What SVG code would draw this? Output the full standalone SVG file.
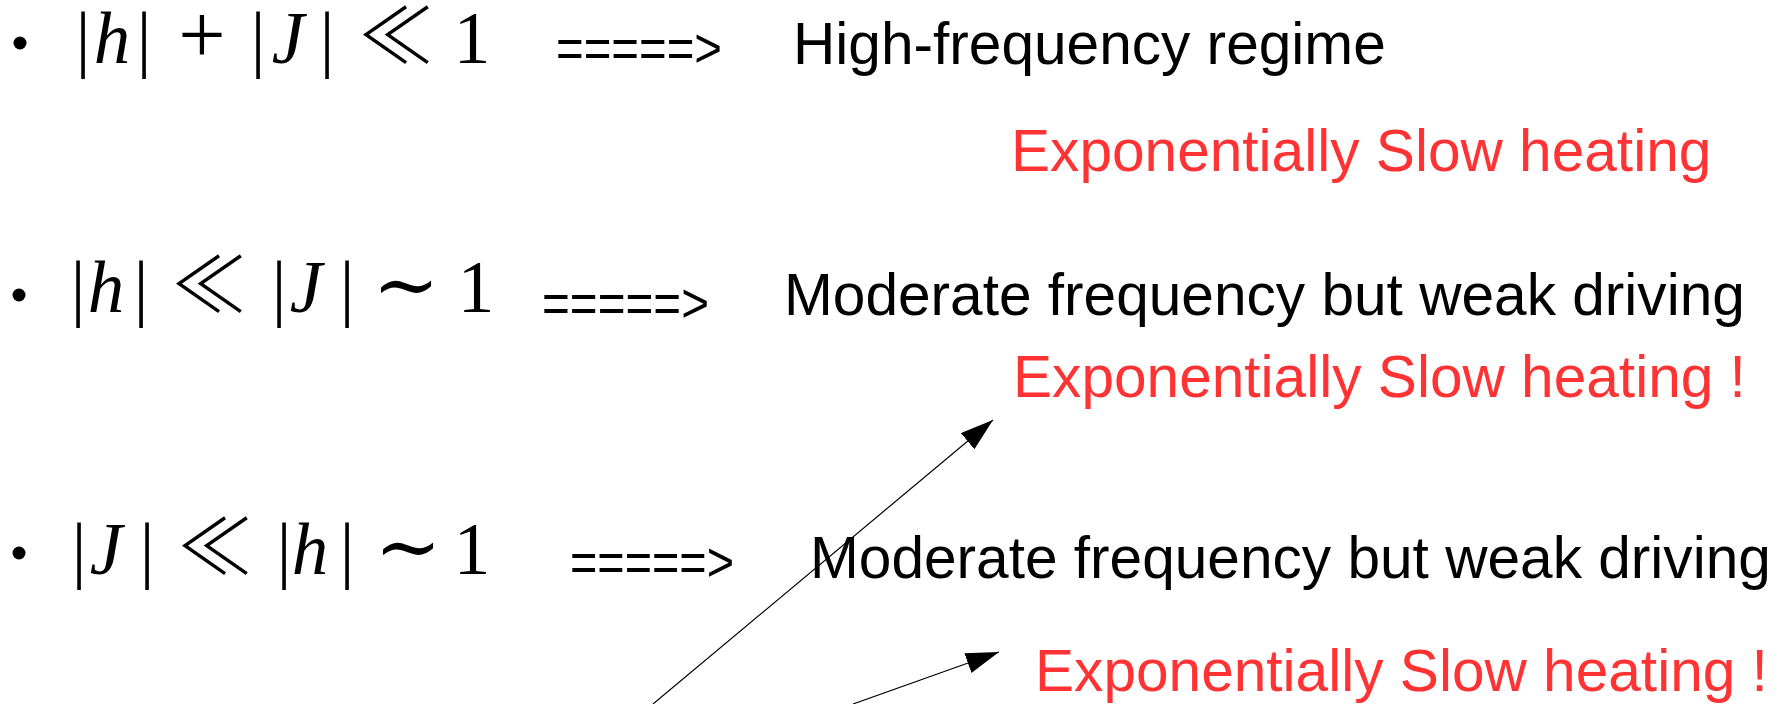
<svg xmlns="http://www.w3.org/2000/svg" width="1783" height="704" viewBox="0 0 1783 704">
<style>
.math{font-family:"Liberation Serif","Times New Roman",serif;font-size:73px;fill:#000;text-anchor:middle}
.sym{font-family:"Noto Sans CJK JP","DejaVu Sans",sans-serif;font-weight:300;font-size:76px}
.plus{font-size:84px}
.tl{font-family:"DejaVu Serif","DejaVu Sans",serif;font-size:80px}
.arr{font-family:"Liberation Sans",Arial,sans-serif;font-size:55px;fill:#000}
.lbl{font-family:"Liberation Sans",Arial,sans-serif;font-size:58.6px;fill:#000}
.red{font-family:"Liberation Sans",Arial,sans-serif;font-size:58.6px;fill:#FF3333}
.conn{stroke:#000;stroke-width:1.2;fill:none}
</style>
<defs>
<marker id="ah" markerUnits="userSpaceOnUse" markerWidth="34" markerHeight="22" refX="33" refY="10.5" orient="auto">
<path d="M0,0 L33,10.5 L0,21 z" fill="#000"/>
</marker>
</defs>
<g id="row1">
<circle cx="20" cy="43" r="6.5" fill="#000"/>
<text class="math" y="63"><tspan x="83">|</tspan><tspan x="112" font-style="italic">h</tspan><tspan x="144">|</tspan><tspan x="202" class="plus">+</tspan><tspan x="258">|</tspan><tspan x="288" font-style="italic">J</tspan><tspan x="327">|</tspan><tspan x="396" class="sym">≪</tspan><tspan x="472">1</tspan></text>
<text class="arr" x="556" y="67" textLength="166" lengthAdjust="spacingAndGlyphs">=====&gt;</text>
<text class="lbl" x="793" y="64">High-frequency regime</text>
<text class="red" x="1011" y="171">Exponentially Slow heating</text>
</g>
<g id="row2">
<circle cx="19" cy="295" r="6.5" fill="#000"/>
<text class="math" y="312"><tspan x="78">|</tspan><tspan x="106" font-style="italic">h</tspan><tspan x="141">|</tspan><tspan x="209" class="sym">≪</tspan><tspan x="279">|</tspan><tspan x="306" font-style="italic">J</tspan><tspan x="347">|</tspan><tspan x="406" class="tl">∼</tspan><tspan x="476">1</tspan></text>
<text class="arr" x="542" y="322" textLength="167" lengthAdjust="spacingAndGlyphs">=====&gt;</text>
<text class="lbl" x="784" y="315">Moderate frequency but weak driving</text>
<text class="red" x="1013" y="397">Exponentially Slow heating !</text>
</g>
<g id="row3">
<circle cx="19" cy="553" r="6.5" fill="#000"/>
<text class="math" y="574"><tspan x="79">|</tspan><tspan x="106" font-style="italic">J</tspan><tspan x="147">|</tspan><tspan x="215" class="sym">≪</tspan><tspan x="284">|</tspan><tspan x="310" font-style="italic">h</tspan><tspan x="347">|</tspan><tspan x="408" class="tl">∼</tspan><tspan x="472">1</tspan></text>
<text class="arr" x="570" y="581" textLength="164" lengthAdjust="spacingAndGlyphs">=====&gt;</text>
<text class="lbl" x="810" y="578">Moderate frequency but weak driving</text>
<text class="red" x="1035" y="691">Exponentially Slow heating !</text>
</g>
<g id="connectors">
<line class="conn" x1="653" y1="704" x2="993" y2="420" marker-end="url(#ah)"/>
<line class="conn" x1="853" y1="704" x2="999" y2="652" marker-end="url(#ah)"/>
</g>
</svg>
